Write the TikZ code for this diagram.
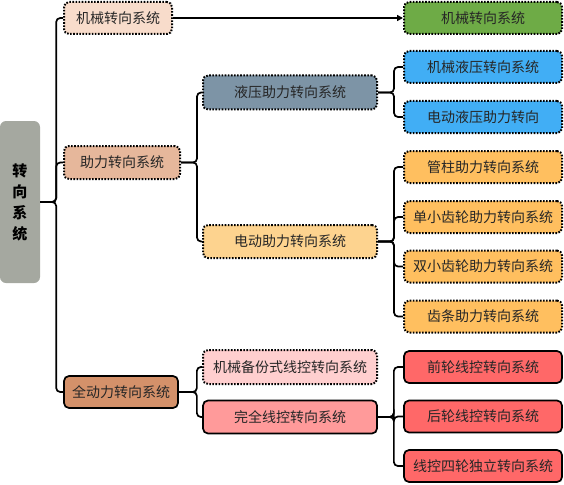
\documentclass[tikz,border=0pt]{standalone}
\usepackage{fontspec}
\setmainfont{Noto Sans CJK SC}
\usetikzlibrary{arrows.meta}
\definecolor{rootc}{HTML}{A5A8A0}
\definecolor{ca}{HTML}{F8DCCB}
\definecolor{cb}{HTML}{E6B79B}
\definecolor{cc}{HTML}{D4916A}
\definecolor{cg}{HTML}{6EAB46}
\definecolor{ch}{HTML}{7D94A6}
\definecolor{cblue}{HTML}{41AEF5}
\definecolor{cd}{HTML}{FDD38F}
\definecolor{co}{HTML}{FFBF5F}
\definecolor{cp}{HTML}{FFCFCF}
\definecolor{cq}{HTML}{FF9A9A}
\definecolor{cr}{HTML}{FF6868}
\tikzset{
  box/.style={rounded corners=5pt, minimum height=32pt, inner sep=0pt,
    font=\fontsize{14}{16}\selectfont, text=black!85},
  dotbox/.style={box, draw=black, line width=2pt, dash pattern=on 1.6pt off 1.5pt},
  solidbox/.style={box, draw=black, line width=1.7pt},
  leaf/.style={minimum width=158pt},
  mid/.style={minimum width=174pt, minimum height=33pt},
  link/.style={draw=black, line width=1.7pt, rounded corners=4pt},
}
\begin{document}
\begin{tikzpicture}[x=1pt,y=-1pt]
\useasboundingbox (0,0) rectangle (564,484);
% root
\node[fill=rootc, rounded corners=6pt, minimum width=40pt, minimum height=162pt,
  inner sep=0pt, align=center, font=\bfseries\fontsize{15}{21}\selectfont]
  (root) at (20,202) {转\\向\\系\\统};
% level 1
\node[dotbox, fill=ca, minimum width=108pt] (m1) at (118,18) {机械转向系统};
\node[dotbox, fill=cb, minimum width=116pt, minimum height=33pt] (m2) at (122,162.5) {助力转向系统};
\node[solidbox, fill=cc, minimum width=114pt] (m3) at (121,392) {全动力转向系统};
% level 2
\node[dotbox, fill=cg, leaf] (g) at (483,18) {机械转向系统};
\node[dotbox, fill=ch, mid, minimum height=34pt] (h1) at (290,92.5) {液压助力转向系统};
\node[dotbox, fill=cd, mid] (h2) at (290,241.5) {电动助力转向系统};
\node[dotbox, fill=cp, mid, minimum height=34pt] (h3) at (290,367) {机械备份式线控转向系统};
\node[solidbox, fill=cq, mid] (h4) at (290,417) {完全线控转向系统};
% leaves
\node[dotbox, fill=cblue, leaf] (l1) at (483,67) {机械液压转向系统};
\node[dotbox, fill=cblue, leaf] (l2) at (483,117) {电动液压助力转向};
\node[dotbox, fill=co, leaf] (l3) at (483,167) {管柱助力转向系统};
\node[dotbox, fill=co, leaf] (l4) at (483,217) {单小齿轮助力转向系统};
\node[dotbox, fill=co, leaf] (l5) at (483,266.5) {双小齿轮助力转向系统};
\node[dotbox, fill=co, leaf] (l6) at (483,316.5) {齿条助力转向系统};
\node[solidbox, fill=cr, leaf] (l7) at (483,367) {前轮线控转向系统};
\node[solidbox, fill=cr, leaf] (l8) at (483,416.5) {后轮线控转向系统};
\node[solidbox, fill=cr, leaf] (l9) at (483,466) {线控四轮独立转向系统};
% connectors
\foreach \c in {m1,m2,m3} \draw[link] (root.east) -- ++(16,0) |- (\c.west);
\draw[line width=1.7pt, -{Triangle[length=6pt,width=6pt]}] (m1.east) -- (g.west);
\foreach \c in {h1,h2} \draw[link] (m2.east) -- ++(16,0) |- (\c.west);
\foreach \c in {h3,h4} \draw[link] (m3.east) -- ++(18,0) |- (\c.west);
\foreach \c in {l1,l2} \draw[link] (h1.east) -- ++(16,0) |- (\c.west);
\foreach \c in {l3,l4,l5,l6} \draw[link] (h2.east) -- ++(16,0) |- (\c.west);
\foreach \c in {l7,l8,l9} \draw[link] (h4.east) -- ++(16,0) |- (\c.west);
\end{tikzpicture}
\end{document}
